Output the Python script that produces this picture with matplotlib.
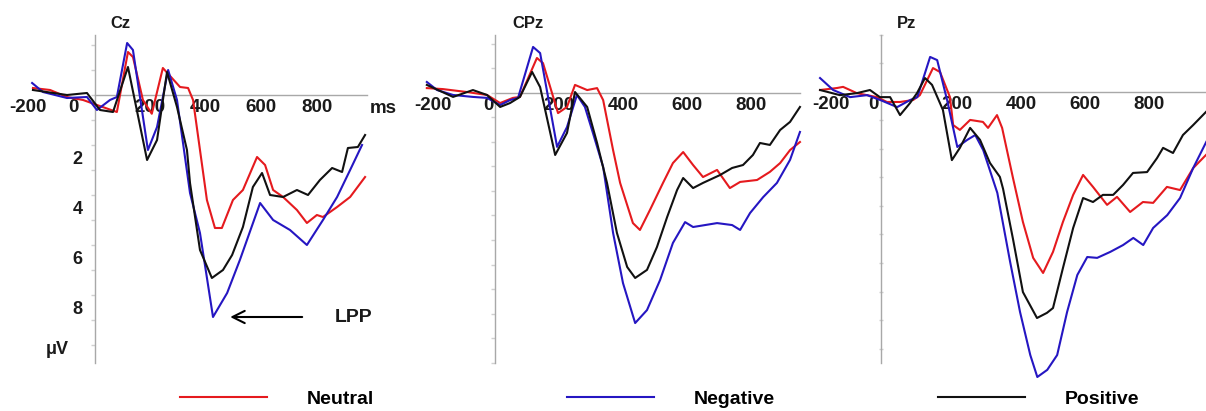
import matplotlib
matplotlib.use('Agg')
import matplotlib.pyplot as plt
import matplotlib.transforms as mtransforms
import numpy as np

plt.rcParams['font.family'] = ['Liberation Sans', 'DejaVu Sans']
plt.rcParams['font.weight'] = 'bold'

# ---------------- data: time (ms) / amplitude (uV, positive drawn downward)
cz_neutral_t = [-224, -162, -101, -43, 7, 79, 119, 137, 173, 205, 245, 307, 336, 354, 404, 433, 458,
                498, 534, 585, 614, 643, 679, 729, 765, 801, 823, 874, 921, 975]
cz_neutral_v = [-0.28, -0.2, 0.08, 0.2, 0.4, 0.68, -1.72, -1.52, 0.2, 0.75, -1.08, -0.32, -0.28, 0.2,
                4.2, 5.32, 5.32, 4.2, 3.8, 2.48, 2.8, 3.8, 4.08, 4.6, 5.12, 4.8, 4.88, 4.48, 4.08, 3.28]
cz_negative_t = [-227, -188, -101, -29, 7, 54, 79, 116, 137, 191, 224, 264, 296, 343, 379, 426, 477,
                 523, 596, 643, 704, 765, 823, 874, 921, 964]
cz_negative_v = [-0.48, -0.12, 0.12, 0.08, 0.6, 0.2, 0.08, -2.08, -1.8, 2.2, 1.28, -1.0, 0.2, 3.92,
                 5.52, 8.88, 7.92, 6.6, 4.32, 5.0, 5.4, 6.0, 5.0, 4.08, 3.0, 2.0]
cz_positive_t = [-224, -101, -29, 18, 65, 119, 188, 224, 260, 296, 332, 343, 379, 422, 462, 495, 534,
                 570, 603, 632, 679, 729, 769, 812, 856, 892, 913, 949, 975]
cz_positive_v = [-0.2, 0.0, -0.08, 0.6, 0.68, -1.12, 2.6, 1.8, -0.92, 0.48, 2.2, 3.52, 6.2, 7.32, 7.0,
                 6.4, 5.28, 3.68, 3.12, 4.0, 4.08, 3.8, 4.0, 3.4, 2.92, 3.08, 2.12, 2.08, 1.6]

cpz_neutral_t = [-213, -163, -88, -25, 16, 56, 78, 131, 150, 197, 225, 250, 288, 319, 338, 369, 391,
                 431, 453, 484, 525, 556, 588, 619, 650, 694, 734, 766, 819, 859, 891, 922, 953]
cpz_neutral_v = [-0.2, -0.16, -0.04, 0.08, 0.41, 0.2, 0.16, -1.43, -1.22, 0.82, 0.57, -0.33, -0.12,
                 -0.2, 0.29, 2.33, 3.67, 5.31, 5.59, 4.78, 3.67, 2.86, 2.41, 2.94, 3.43, 3.14, 3.88,
                 3.63, 3.55, 3.22, 2.86, 2.33, 2.0]
cpz_negative_t = [-213, -181, -131, -69, -25, 16, 47, 72, 119, 141, 194, 225, 256, 281, 306, 338, 369,
                  400, 438, 475, 516, 556, 594, 619, 694, 741, 766, 797, 838, 881, 922, 953]
cpz_negative_v = [-0.45, -0.12, 0.08, 0.16, 0.2, 0.49, 0.29, 0.2, -1.88, -1.63, 2.2, 1.39, 0.08, 0.57,
                  1.63, 3.02, 5.71, 7.76, 9.39, 8.86, 7.63, 6.12, 5.27, 5.47, 5.31, 5.39, 5.59, 4.9,
                  4.25, 3.67, 2.73, 1.59]
cpz_positive_t = [-213, -131, -69, -25, 16, 47, 78, 116, 141, 188, 225, 250, 288, 319, 350, 381, 413,
                  438, 475, 506, 538, 569, 588, 619, 650, 703, 741, 775, 806, 828, 859, 891, 922, 953]
cpz_positive_v = [-0.33, 0.16, -0.12, 0.08, 0.57, 0.41, 0.16, -0.86, -0.24, 2.53, 1.63, -0.04, 0.57,
                  2.04, 3.67, 5.71, 7.1, 7.55, 7.22, 6.29, 5.06, 3.96, 3.47, 3.88, 3.67, 3.35, 3.06,
                  2.94, 2.53, 2.04, 2.12, 1.51, 1.18, 0.57]

pz_neutral_t = [-228, -175, -156, -113, -50, -19, 22, 63, 84, 125, 147, 178, 188, 209, 241, 281, 297,
                325, 341, 375, 406, 438, 469, 500, 531, 563, 594, 625, 669, 700, 741, 781, 813, 856,
                897, 938, 978]
pz_neutral_v = [-0.07, -0.14, -0.18, 0.04, 0.18, 0.35, 0.35, 0.28, 0.11, -0.84, -0.7, 0.18, 1.16, 1.33,
                0.98, 1.05, 1.26, 0.81, 1.26, 3.02, 4.56, 5.82, 6.35, 5.61, 4.56, 3.61, 2.91, 3.33,
                3.96, 3.68, 4.21, 3.86, 3.89, 3.33, 3.44, 2.67, 2.21]
pz_negative_t = [-228, -187, -134, -81, -40, 13, 54, 76, 116, 138, 169, 201, 232, 257, 282, 326, 366,
                 397, 429, 451, 482, 513, 544, 576, 607, 638, 679, 719, 751, 782, 813, 857, 897, 938,
                 979]
pz_negative_v = [-0.49, -0.07, 0.18, 0.11, 0.28, 0.53, 0.28, 0.18, -1.23, -1.12, 0.28, 1.93, 1.68,
                 1.51, 2.04, 3.54, 5.96, 7.72, 9.23, 10.0, 9.75, 9.23, 7.72, 6.42, 5.79, 5.82, 5.61,
                 5.37, 5.12, 5.37, 4.77, 4.32, 3.72, 2.67, 1.75]
pz_positive_t = [-228, -166, -113, -72, -41, -9, 22, 53, 75, 100, 122, 156, 184, 209, 241, 272, 303,
                 334, 344, 375, 406, 450, 481, 500, 531, 563, 594, 625, 656, 688, 719, 750, 794, 825,
                 844, 875, 906, 938, 978]
pz_positive_v = [-0.07, 0.11, 0.04, -0.07, 0.18, 0.18, 0.81, 0.39, 0.04, -0.49, -0.25, 0.63, 2.39,
                 1.96, 1.26, 1.68, 2.49, 2.98, 3.4, 5.16, 7.02, 7.93, 7.75, 7.58, 6.18, 4.77, 3.72,
                 3.86, 3.61, 3.61, 3.26, 2.84, 2.81, 2.32, 1.96, 2.14, 1.51, 1.16, 0.7]

x_ticks = [-200, 0, 200, 400, 600, 800]
conditions = ['Neutral', 'Negative', 'Positive']
colors = {'Neutral': '#e51a1e', 'Negative': '#2516c2', 'Positive': '#111111'}

W, H = 1206, 411
fig = plt.figure(figsize=(W / 100, H / 100), dpi=100)


def add_panel(x0, ppm, tlim, y0, ppv, vlim):
    # x0/y0: pixel of t=0 / v=0, ppm/ppv: pixels per ms / per uV
    left = x0 + ppm * tlim[0]
    right = x0 + ppm * tlim[1]
    top = y0 + ppv * vlim[0]
    bottom = y0 + ppv * vlim[1]
    ax = fig.add_axes([left / W, 1 - bottom / H, (right - left) / W, (bottom - top) / H])
    ax.set_xlim(*tlim)
    ax.set_ylim(vlim[1], vlim[0])
    ax.patch.set_visible(False)
    return ax


def shift(label, dx_px, dy_px):
    off = mtransforms.ScaledTranslation(dx_px / 100, -dy_px / 100, fig.dpi_scale_trans)
    label.set_transform(label.get_transform() + off)


panels = [
    dict(name='Cz', x0=95, ppm=0.277, tlim=(-235, 990), y0=95, ppv=25, vlim=(-2.5, 10.8),
         yaxis_at=0, xend=982, ybounds=(-2.4, 10.7), zero_dx=-22, m200_dx=-12, title_x=120,
         data={'Neutral': (cz_neutral_t, cz_neutral_v), 'Negative': (cz_negative_t, cz_negative_v),
               'Positive': (cz_positive_t, cz_positive_v)}, legend='Neutral', leg_x=180),
    dict(name='CPz', x0=495, ppm=0.32, tlim=(-225, 960), y0=93, ppv=24.5, vlim=(-2.5, 11.1),
         yaxis_at=0, xend=953, ybounds=(-2.37, 11.0), zero_dx=-7, m200_dx=2, title_x=528,
         data={'Neutral': (cpz_neutral_t, cpz_neutral_v), 'Negative': (cpz_negative_t, cpz_negative_v),
               'Positive': (cpz_positive_t, cpz_positive_v)}, legend='Negative', leg_x=567),
    dict(name='Pz', x0=893, ppm=0.32, tlim=(-235, 1000), y0=92, ppv=28.5, vlim=(-2.1, 10.3),
         yaxis_at=-37.5, xend=1000, ybounds=(-2.0, 9.5), zero_dx=-20, m200_dx=2, title_x=907,
         data={'Neutral': (pz_neutral_t, pz_neutral_v), 'Negative': (pz_negative_t, pz_negative_v),
               'Positive': (pz_positive_t, pz_positive_v)}, legend='Positive', leg_x=938),
]

axes = []
for p in panels:
    ax = add_panel(p['x0'], p['ppm'], p['tlim'], p['y0'], p['ppv'], p['vlim'])
    ax.set_axisbelow(True)
    handles = {}
    for c in conditions:
        t, v = p['data'][c]
        handles[c], = ax.plot(t, v, color=colors[c], lw=1.5, zorder=3, clip_on=False)

    # axis lines crossing at the origin
    ax.spines['top'].set_visible(False)
    ax.spines['right'].set_visible(False)
    ax.spines['bottom'].set_position(('data', 0))
    ax.spines['left'].set_position(('data', p['yaxis_at']))
    ax.spines['bottom'].set_bounds(p['yaxis_at'], p['xend'])
    ax.spines['left'].set_bounds(*p['ybounds'])
    for s in ('bottom', 'left'):
        ax.spines[s].set_color('#a8a8a8')
        ax.spines[s].set_linewidth(1.0)

    ax.set_xticks(x_ticks, [str(x) for x in x_ticks])
    ax.tick_params(axis='x', length=0, pad=3, labelsize=13.5, labelcolor='#1a1a1a')
    for lbl in ax.get_xticklabels():
        if lbl.get_text() == '0':
            shift(lbl, p['zero_dx'], 0)
        elif lbl.get_text() == '-200':
            shift(lbl, p['m200_dx'], 0)

    yt = np.arange(-2, int(p['ybounds'][1]) + 1)
    if p['name'] == 'Cz':
        ylabels = [str(y) if y in (2, 4, 6, 8) else '' for y in yt]
    else:
        ylabels = ['' for y in yt]
    ax.set_yticks(yt, ylabels)
    ax.tick_params(axis='y', length=3, width=1, color='#d0d0d0', pad=6,
                   direction='inout' if p['name'] == 'Pz' else 'out',
                   labelsize=13, labelcolor='#1a1a1a')
    for lbl in ax.get_yticklabels():
        shift(lbl, 0, 12)

    fig.text(p['title_x'] / W, 1 - 23 / H, p['name'], ha='center', va='center',
             fontsize=12, weight='bold', color='#1a1a1a')

    ax.legend(handles=[handles[p['legend']]], labels=[p['legend']], loc='center left',
              bbox_to_anchor=(p['leg_x'] / W, 1 - 399 / H), bbox_transform=fig.transFigure,
              frameon=False, handlelength=4.45, handletextpad=2.05, borderpad=0,
              borderaxespad=0, prop=dict(weight='bold', size=14))
    axes.append(ax)

# Cz extras: unit labels and LPP marker
ax_cz = axes[0]
ax_cz.text(993, 0.52, 'ms', ha='left', va='center', fontsize=13.5, color='#1a1a1a')
ax_cz.text(-137, 10.2, 'μV', ha='center', va='center', fontsize=13, color='#1a1a1a')
ax_cz.annotate('', xy=(478, 8.88), xytext=(758, 8.88),
               arrowprops=dict(arrowstyle='->', lw=1.5, color='black', mutation_scale=22))
ax_cz.text(866, 8.88, 'LPP', ha='left', va='center', fontsize=14, color='#1a1a1a')

fig.savefig('out.png', dpi=100)
